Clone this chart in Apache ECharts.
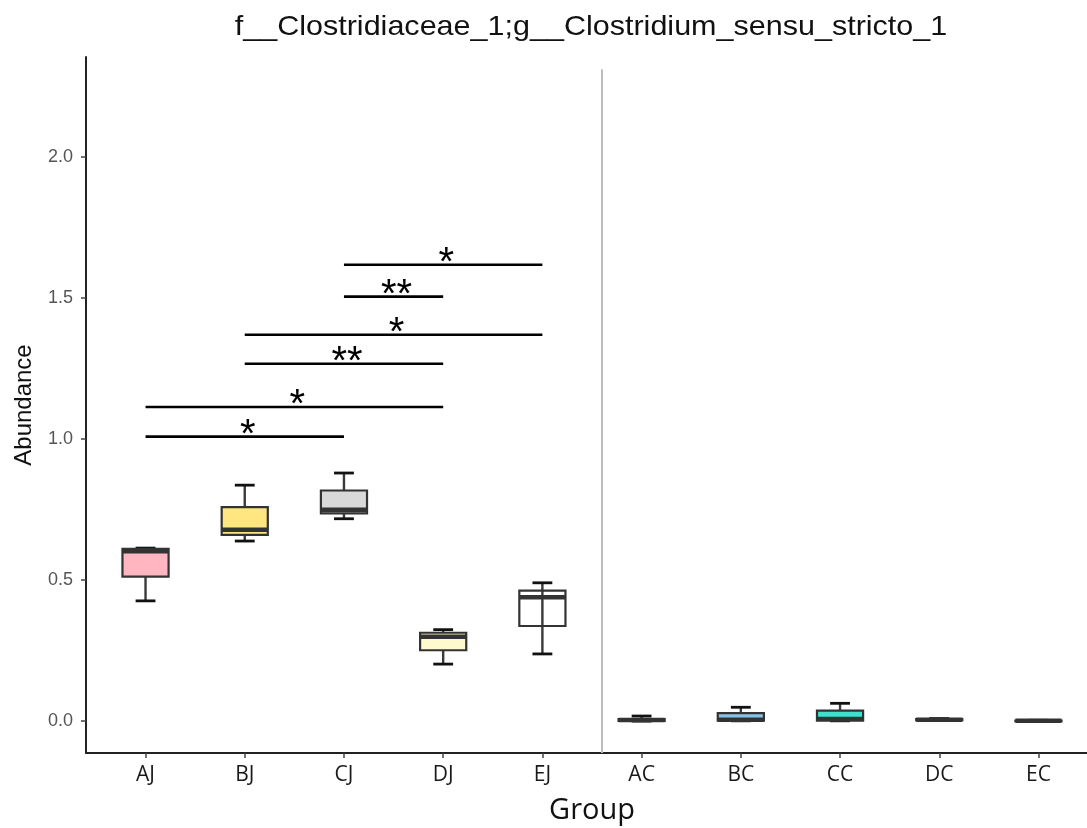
<!DOCTYPE html>
<html>
<head>
<meta charset="utf-8">
<title>Clostridium_sensu_stricto_1 abundance by group</title>
<script src="https://cdn.jsdelivr.net/npm/echarts@6/dist/echarts.min.js"></script>
<style>
  html, body { margin: 0; padding: 0; background: #ffffff; }
  #chart { width: 1087px; height: 828px; }
</style>
</head>
<body>
<div id="chart"></div>
<script>
// Groups on the x axis, in plotting order
const groups = ['AJ', 'BJ', 'CJ', 'DJ', 'EJ', 'AC', 'BC', 'CC', 'DC', 'EC'];

// Five-number summaries per group (relative abundance)
const whiskerLow  = [0.426, 0.638, 0.717, 0.202, 0.238, 0.000, 0.001, 0.001, 0.002, 0.000];
const lowerQ      = [0.512, 0.660, 0.736, 0.251, 0.337, 0.001, 0.002, 0.002, 0.003, 0.000];
const medianVal   = [0.602, 0.678, 0.749, 0.299, 0.439, 0.004, 0.005, 0.008, 0.005, 0.001];
const upperQ      = [0.610, 0.758, 0.817, 0.313, 0.462, 0.007, 0.028, 0.037, 0.007, 0.002];
const whiskerHigh = [0.613, 0.836, 0.879, 0.324, 0.490, 0.018, 0.049, 0.063, 0.009, 0.003];

// Y axis tick values
const yTicks = [0.0, 0.5, 1.0, 1.5, 2.0];

// Pairwise significance brackets: group indices, bracket height, label
const sigFrom   = [2, 2, 1, 1, 0, 0];
const sigTo     = [4, 3, 4, 3, 3, 2];
const sigHeight = [1.617, 1.504, 1.369, 1.266, 1.113, 1.008];
const sigLabels = ['*', '**', '*', '**', '*', '*'];

// Divider between the J and C groups
const dividerAt = 4.6;
const dividerTop = 2.31;

// Fill colour of each box (null = no fill)
const boxFills = ['#FFB6C1', '#FFE680', '#D9D9D9', '#FFFACD', null,
                  '#FFB6C1', '#87C4EC', '#3FE0CF', '#FFFACD', '#FFFFFF'];

const yMin = -0.113, yMax = 2.353;
const xMin = -0.6, xMax = 9.6;
const BOX_WIDTH = 0.465;
const CAP_WIDTH = 0.2;

const boxData = groups.map((g, i) =>
  [i, whiskerLow[i], lowerQ[i], medianVal[i], upperQ[i], whiskerHigh[i]]);
const sigData = sigFrom.map((f, i) => [f, sigTo[i], sigHeight[i], i]);
const groupIdx = groups.map((g, i) => i);

function renderBox(params, api) {
  const x = api.value(0);
  const lo = api.coord([x, api.value(1)]);
  const b1 = api.coord([x, api.value(2)]);
  const md = api.coord([x, api.value(3)]);
  const b3 = api.coord([x, api.value(4)]);
  const hi = api.coord([x, api.value(5)]);
  const cx = lo[0];
  const hb = api.size([BOX_WIDTH, 0])[0] / 2;
  const hc = api.size([CAP_WIDTH, 0])[0] / 2;
  const fill = boxFills[params.dataIndex];
  return {
    type: 'group',
    children: [
      { type: 'line', shape: { x1: cx, y1: lo[1], x2: cx, y2: hi[1] },
        style: { stroke: '#3a3a3a', lineWidth: 2.4 } },
      { type: 'line', shape: { x1: cx - hc, y1: lo[1], x2: cx + hc, y2: lo[1] },
        style: { stroke: '#111111', lineWidth: 2.8 } },
      { type: 'line', shape: { x1: cx - hc, y1: hi[1], x2: cx + hc, y2: hi[1] },
        style: { stroke: '#111111', lineWidth: 2.8 } },
      { type: 'rect',
        shape: { x: cx - hb, y: b3[1], width: hb * 2, height: Math.max(b1[1] - b3[1], 0.5) },
        style: { fill: fill || 'none', stroke: '#333333', lineWidth: 2.2 } },
      { type: 'line', shape: { x1: cx - hb, y1: md[1], x2: cx + hb, y2: md[1] },
        style: { stroke: '#333333', lineWidth: 4.4 } }
    ]
  };
}

function renderSig(params, api) {
  const p1 = api.coord([api.value(0), api.value(2)]);
  const p2 = api.coord([api.value(1), api.value(2)]);
  const label = sigLabels[api.value(3)];
  return {
    type: 'group',
    children: [
      { type: 'line', shape: { x1: p1[0], y1: p1[1], x2: p2[0], y2: p2[1] },
        style: { stroke: '#000000', lineWidth: 2.6 } },
      { type: 'text', x: (p1[0] + p2[0]) / 2 + 3, y: p1[1] - 1,
        style: { text: label, fill: '#000000', fontSize: 40,
                 fontFamily: 'Liberation Sans, Arial, sans-serif',
                 align: 'center', verticalAlign: 'middle' } }
    ]
  };
}

const chart = echarts.init(document.getElementById('chart'), null, { renderer: 'canvas' });

chart.setOption({
  animation: false,
  backgroundColor: '#ffffff',
  graphic: [{
    type: 'text', x: 591, y: 27, scaleX: 1.09,
    style: { text: 'f__Clostridiaceae_1;g__Clostridium_sensu_stricto_1',
             fill: '#111111', fontSize: 28,
             fontFamily: 'Liberation Sans, Arial, sans-serif',
             align: 'center', verticalAlign: 'middle' }
  }],
  grid: { left: 86, top: 57, width: 1012, height: 696,
          containLabel: false, outerBoundsMode: 'none' },
  xAxis: {
    type: 'value', min: xMin, max: xMax,
    name: 'Group', nameLocation: 'middle', nameGap: 43,
    nameTextStyle: { fontSize: 29, color: '#111111', fontFamily: 'Open Sans, sans-serif' },
    splitLine: { show: false },
    axisLine: { show: true, onZero: false, lineStyle: { color: '#222222', width: 2 } },
    axisTick: { show: true, customValues: groupIdx, length: 5,
                lineStyle: { color: '#444444', width: 1.5 } },
    axisLabel: { show: true, customValues: groupIdx, margin: 12,
                 formatter: v => groups[Math.round(v)],
                 fontSize: 21, color: '#1a1a1a', fontFamily: 'Open Sans, sans-serif' }
  },
  yAxis: {
    type: 'value', min: yMin, max: yMax,
    name: 'Abundance', nameLocation: 'middle', nameGap: 50, nameRotate: 90,
    nameTextStyle: { fontSize: 24, color: '#111111', fontFamily: 'Liberation Sans, Arial, sans-serif' },
    splitLine: { show: false },
    axisLine: { show: true, onZero: false, lineStyle: { color: '#222222', width: 2 } },
    axisTick: { show: true, customValues: yTicks, length: 5,
                lineStyle: { color: '#444444', width: 1.5 } },
    axisLabel: { show: true, customValues: yTicks, margin: 13,
                 formatter: v => v.toFixed(1),
                 fontSize: 18, color: '#555555', fontFamily: 'Liberation Sans, Arial, sans-serif' }
  },
  series: [
    {
      type: 'custom', name: 'divider', data: [[dividerAt, 0]],
      encode: { x: 0, y: 1 },
      renderItem: () => ({ type: 'group', children: [] }),
      markLine: {
        silent: true, symbol: ['none', 'none'], label: { show: false },
        lineStyle: { color: '#BDBDBD', width: 2, type: 'solid' },
        data: [[{ coord: [dividerAt, yMin] }, { coord: [dividerAt, dividerTop] }]]
      }
    },
    {
      type: 'custom', name: 'boxes', data: boxData,
      encode: { x: 0, y: [1, 2, 3, 4, 5] },
      renderItem: renderBox
    },
    {
      type: 'custom', name: 'significance', data: sigData,
      encode: { x: [0, 1], y: 2 },
      renderItem: renderSig
    }
  ]
});
</script>
</body>
</html>
